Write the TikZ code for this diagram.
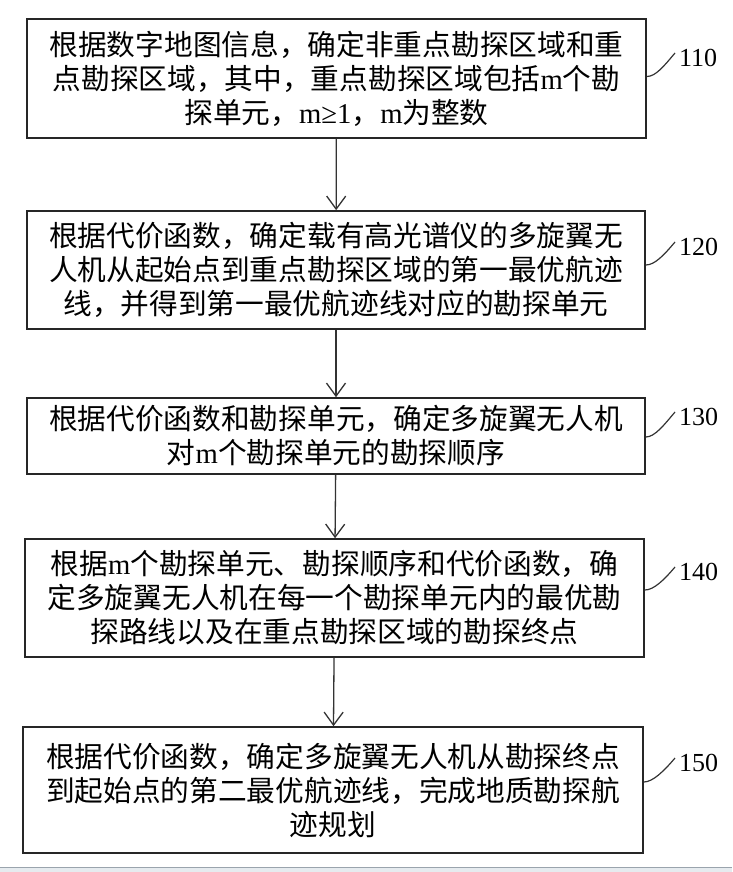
\documentclass[tikz,border=0pt]{standalone}
\usepackage{fontspec}
\setmainfont{Liberation Serif}
\newfontfamily\cjk{Noto Sans CJK SC}
\usepackage{tikz}
\usetikzlibrary{positioning, arrows.meta}
\definecolor{barline}{HTML}{9AA4AD}
\definecolor{barfill}{HTML}{E6EBEF}
\newcommand{\latm}{{\rmfamily m}}
\tikzset{
  stepbox/.style={draw=black!85, line width=1.6pt, align=center, inner sep=0pt,
    font=\cjk\fontsize{28.7}{34}\selectfont},
  arr/.style={draw=black!80, line width=1.3pt, -{Straight Barb[length=13pt,width=19pt,line width=1.3pt]}},
  lead/.style={draw=black!80, line width=1.2pt},
  lab/.style={anchor=west, inner sep=0pt, font=\fontsize{26}{28}\selectfont}
}

\begin{document}
\begin{tikzpicture}[x=1pt,y=-1pt]
        \useasboundingbox (0,0) rectangle (732,872);
        % Bottom bar
        \fill[barfill] (0,867) rectangle (732,872);
        \draw[barline, line width=1pt] (0,867) -- (732,867);
        % Steps
        \node[stepbox, minimum width=619pt, minimum height=119pt] (s1) at (336.5,78.5)
          {根据数字地图信息，确定非重点勘探区域和重\\点勘探区域，其中，重点勘探区域包括\latm 个勘\\探单元，{\rmfamily m≥1}，\latm 为整数};
        \node[stepbox, minimum width=618pt, minimum height=118pt] (s2) at (336,270)
          {根据代价函数，确定载有高光谱仪的多旋翼无\\人机从起始点到重点勘探区域的第一最优航迹\\线，并得到第一最优航迹线对应的勘探单元};
        \node[stepbox, minimum width=618pt, minimum height=76pt] (s3) at (336,436)
          {根据代价函数和勘探单元，确定多旋翼无人机\\对\latm 个勘探单元的勘探顺序};
        \node[stepbox, minimum width=619pt, minimum height=118pt] (s4) at (334.5,598)
          {根据\latm 个勘探单元、勘探顺序和代价函数，确\\定多旋翼无人机在每一个勘探单元内的最优勘\\探路线以及在重点勘探区域的勘探终点};
        \node[stepbox, minimum width=620pt, minimum height=126pt] (s5) at (333,790)
          {根据代价函数，确定多旋翼无人机从勘探终点\\到起始点的第二最优航迹线，完成地质勘探航\\迹规划};
        % Arrows
        \draw[arr] (s1) -- (s2);
        \draw[arr] (s2) -- (s3);
        \draw[arr] (s3) -- (s4);
        \draw[arr] (s4) -- (s5);
        % Labels
        \node[lab] (l1) at (679,58) {110};
        \node[lab] (l2) at (679,247) {120};
        \node[lab] (l3) at (679,417) {130};
        \node[lab] (l4) at (679,572) {140};
        \node[lab] (l5) at (679,763) {150};
        \draw[lead] ([yshift=2pt]s1.east) .. controls +(9,0) and +(-11,13) .. ([xshift=-4pt,yshift=5pt]l1.west);
        \draw[lead] ([yshift=5pt]s2.east) .. controls +(9,0) and +(-11,13) .. ([xshift=-4pt,yshift=5pt]l2.west);
        \draw[lead] ([yshift=-1pt]s3.east) .. controls +(9,0) and +(-11,13) .. ([xshift=-4pt,yshift=5pt]l3.west);
        \draw[lead] ([yshift=8pt]s4.east) .. controls +(9,0) and +(-11,13) .. ([xshift=-4pt,yshift=5pt]l4.west);
        \draw[lead] ([yshift=8pt]s5.east) .. controls +(9,0) and +(-11,13) .. ([xshift=-4pt,yshift=5pt]l5.west);
\end{tikzpicture}
\end{document}
